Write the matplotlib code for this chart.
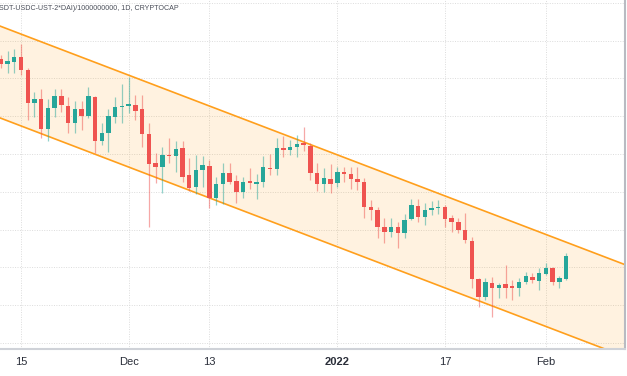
import numpy as np
import pandas as pd
import matplotlib
matplotlib.use('Agg')
import matplotlib.pyplot as plt
import matplotlib.dates as mdates

# daily candles, (TOTAL-USDT-USDC-UST-2*DAI)/1e9, Nov 12 2021 .. Feb 4 2022
dates = pd.date_range('2021-11-12', '2022-02-04', freq='D')

opens = [2703, 2676, 2687, 2713, 2644, 2470, 2491, 2332, 2443, 2507,
         2454, 2364, 2438, 2401, 2502, 2269, 2311, 2396, 2449, 2454,
         2459, 2438, 2306, 2152, 2131, 2195, 2189, 2232, 2089, 2025,
         2115, 2136, 1967, 2041, 2099, 2057, 1999, 2057, 2041, 2052,
         2126, 2121, 2232, 2221, 2237, 2258, 2242, 2099, 2041, 2068,
         2047, 2105, 2094, 2068, 2052, 1920, 1904, 1814, 1787, 1814,
         1782, 1856, 1925, 1867, 1904, 1914, 1920, 1861, 1840, 1798,
         1740, 1539, 1443, 1517, 1491, 1512, 1502, 1491, 1523, 1549,
         1528, 1565, 1597, 1523, 1539]
highs = [2724, 2745, 2756, 2782, 2655, 2528, 2544, 2491, 2544, 2544,
         2502, 2480, 2480, 2555, 2507, 2364, 2438, 2502, 2570, 2607,
         2512, 2512, 2364, 2205, 2237, 2285, 2269, 2269, 2179, 2195,
         2189, 2168, 2078, 2152, 2152, 2089, 2078, 2126, 2094, 2189,
         2200, 2285, 2295, 2274, 2300, 2343, 2258, 2152, 2126, 2147,
         2131, 2131, 2131, 2131, 2073, 1957, 1920, 1861, 1861, 1840,
         1883, 1962, 1962, 1941, 1951, 1957, 1930, 1877, 1861, 1888,
         1761, 1544, 1544, 1549, 1517, 1613, 1533, 1544, 1576, 1570,
         1597, 1623, 1602, 1554, 1676]
lows = [2655, 2629, 2629, 2618, 2380, 2396, 2285, 2269, 2396, 2422,
        2311, 2311, 2327, 2390, 2205, 2248, 2211, 2364, 2364, 2417,
        2380, 2237, 1814, 2047, 1994, 2152, 2105, 2052, 2004, 1988,
        2025, 1914, 1930, 1935, 2041, 1941, 1967, 2015, 1962, 2025,
        2089, 2089, 2184, 2195, 2184, 2216, 2062, 2004, 1999, 1994,
        2025, 2052, 2015, 2010, 1861, 1851, 1756, 1729, 1761, 1703,
        1756, 1851, 1840, 1824, 1877, 1883, 1814, 1787, 1782, 1729,
        1491, 1390, 1428, 1338, 1438, 1438, 1428, 1449, 1512, 1517,
        1480, 1560, 1507, 1491, 1533]
closes = [2676, 2692, 2713, 2644, 2470, 2491, 2332, 2443, 2507, 2459,
          2364, 2438, 2401, 2507, 2269, 2311, 2401, 2449, 2454, 2465,
          2428, 2306, 2147, 2131, 2195, 2189, 2226, 2078, 2020, 2115,
          2142, 1967, 2041, 2099, 2052, 1999, 2052, 2047, 2052, 2131,
          2121, 2232, 2221, 2237, 2253, 2248, 2099, 2041, 2073, 2041,
          2105, 2094, 2068, 2052, 1920, 1904, 1814, 1787, 1814, 1782,
          1851, 1930, 1867, 1904, 1914, 1921, 1856, 1840, 1798, 1745,
          1539, 1443, 1523, 1491, 1507, 1491, 1491, 1523, 1554, 1533,
          1570, 1597, 1523, 1544, 1660]

# descending channel (two anchor points per line)
channel_dates = pd.to_datetime(['2021-11-11', '2022-02-13'])
channel_upper = [2889, 1611]
channel_lower = [2403, 1124]

tick_dates = pd.to_datetime(['2021-11-15', '2021-12-01', '2021-12-13',
                             '2022-01-01', '2022-01-17', '2022-02-01'])
tick_labels = ['15', 'Dec', '13', '2022', '17', 'Feb']
y_grid = [1200, 1400, 1600, 1800, 2000, 2200, 2400, 2600, 2800, 3000]

title = 'SDT-USDC-UST-2*DAI)/1000000000, 1D, CRYPTOCAP'

UP = '#26a69a'
DOWN = '#ef5350'
ORANGE = '#ff9f1c'

plt.rcParams['font.family'] = ['Liberation Sans', 'DejaVu Sans']

fig = plt.figure(figsize=(6.27, 3.76), dpi=100)
ax = fig.add_axes([0, 27 / 376, 625 / 627, 349 / 376])

x = mdates.date2num(dates)
o = np.array(opens, dtype=float)
c = np.array(closes, dtype=float)
colors = np.where(c >= o, UP, DOWN)

# grid
for g in y_grid:
    ax.axhline(g, color='#dcdcdc', lw=0.7, ls=(0, (1, 1.5)), zorder=0)
for t in mdates.date2num(tick_dates):
    ax.axvline(t, color='#dcdcdc', lw=0.7, ls=(0, (1, 1.5)), zorder=0)

# channel
cx = mdates.date2num(channel_dates)
ax.fill_between(cx, channel_lower, channel_upper, color='#ff9800', alpha=0.12,
                lw=0, zorder=1)
ax.plot(cx, channel_upper, color=ORANGE, lw=1.2, zorder=2)
ax.plot(cx, channel_lower, color=ORANGE, lw=1.2, zorder=2)

# candles
ax.vlines(x, lows, highs, colors=colors, lw=0.9, alpha=0.5, zorder=3)
body = np.maximum(np.abs(c - o), 6)
ax.bar(x, body, bottom=np.minimum(o, c), width=0.66, color=colors,
       lw=0, zorder=4)

ax.set_xlim(mdates.date2num(pd.Timestamp('2021-11-15')) - 3.12,
            mdates.date2num(pd.Timestamp('2021-11-15')) + 89.75)
ax.set_ylim(1168, 3015)

ax.set_xticks(mdates.date2num(tick_dates))
ax.set_xticklabels(tick_labels)
ax.set_yticks([])
ax.tick_params(axis='x', length=0, pad=6, labelsize=8, labelcolor='#2a2e39')
for lab in ax.get_xticklabels():
    if lab.get_text() == '2022':
        lab.set_fontweight('bold')

for s in ['top', 'left']:
    ax.spines[s].set_visible(False)
ax.spines['bottom'].set_color('#cfd2d8')
ax.spines['bottom'].set_linewidth(1.5)
ax.spines['right'].set_color('#b8bbc2')
ax.spines['right'].set_linewidth(1.5)

fig.text(-1 / 627, 1 - 9 / 376, title, fontsize=5.1, color='#4a4e59',
         ha='left', va='center')

fig.savefig('out.png', dpi=100)
